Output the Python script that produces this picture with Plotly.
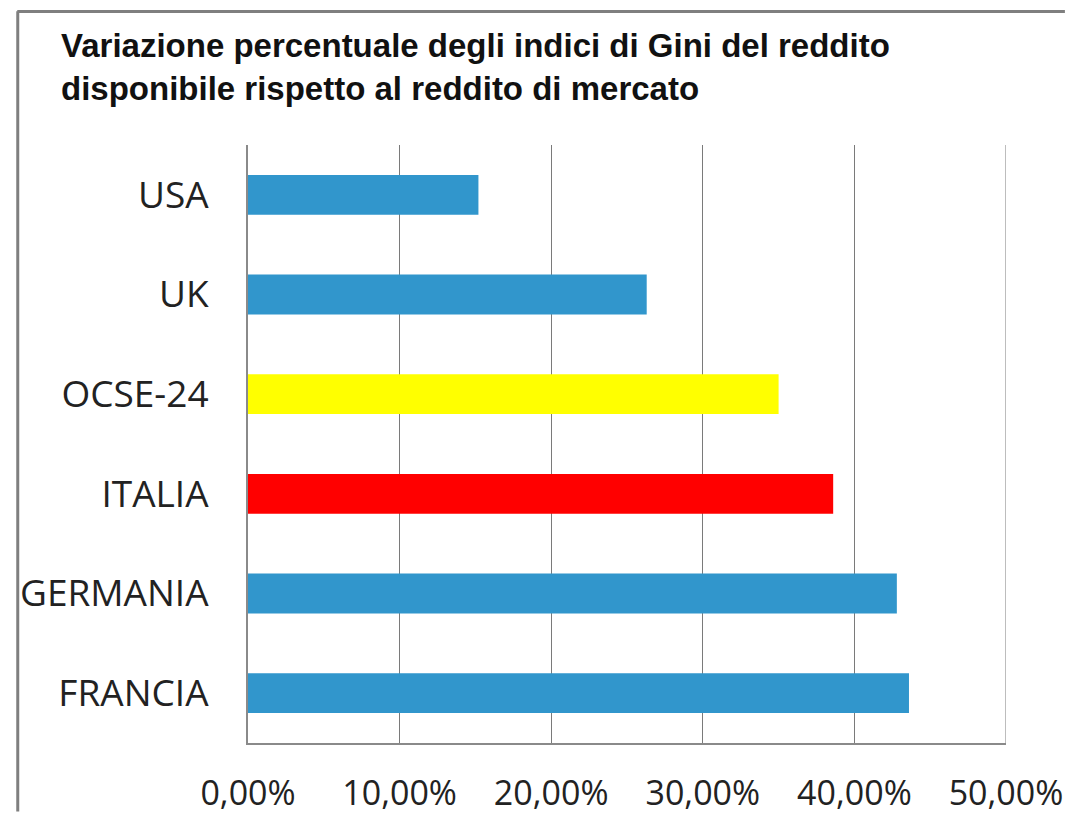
import plotly.graph_objects as go

categories = ["USA", "UK", "OCSE-24", "ITALIA", "GERMANIA", "FRANCIA"]
values = [0.152, 0.263, 0.350, 0.386, 0.428, 0.436]
bar_colors = ["#3196CC", "#3196CC", "#FFFF00", "#FF0000", "#3196CC", "#3196CC"]
tick_vals = [0, 0.1, 0.2, 0.3, 0.4, 0.5]
tick_text = ["0,00%", "10,00%", "20,00%", "30,00%", "40,00%", "50,00%"]
title_text = "Variazione percentuale degli indici di Gini del reddito<br>disponibile rispetto al reddito di mercato"

# page has an 8px body margin; keep the figure inside the window (no scrollbars)
W, H = 1067, 819
L, R, T, B = 235, 60, 137, 70
PW, PH = W - L - R, H - T - B

fig = go.Figure(go.Bar(
    x=values, y=categories, orientation="h",
    marker=dict(color=bar_colors, line=dict(width=0)),
    width=0.4,
))

grid_color = "#7a7a7a"
fig.update_layout(
    width=W, height=H,
    margin=dict(l=L, r=R, t=T, b=B),
    paper_bgcolor="white", plot_bgcolor="white",
    showlegend=False,
    xaxis=dict(range=[tick_vals[0], tick_vals[-1]], tickvals=tick_vals, ticktext=tick_text,
               showgrid=True, gridcolor=grid_color, gridwidth=1,
               showline=True, linecolor="#8a8a8a", linewidth=2,
               ticks="", zeroline=False, ticklabelstandoff=19,
               tickfont=dict(family="Open Sans", size=34, color="#222222"),
               fixedrange=True),
    yaxis=dict(categoryorder="array", categoryarray=categories[::-1],
               showline=True, linecolor="#8a8a8a", linewidth=2,
               ticks="", showgrid=False, ticklabelstandoff=30,
               tickfont=dict(family="Open Sans", size=37, color="#222222"),
               fixedrange=True),
    annotations=[dict(
        text=title_text, showarrow=False, align="left",
        xref="paper", yref="paper", xanchor="left", yanchor="top",
        x=(42 - L) / PW, y=1 + (T - 14) / PH,
        font=dict(family="Liberation Sans, Arial", size=33, color="#111111", weight="bold"),
    )],
    shapes=[
        # right-most gridline (at the end of the axis range)
        dict(type="line", xref="x", yref="paper",
             x0=tick_vals[-1], x1=tick_vals[-1], y0=0, y1=1,
             line=dict(color=grid_color, width=1)),
        # outer frame (top and left)
        dict(type="line", xref="paper", yref="paper",
             x0=-L / PW, x1=(W - L) / PW, y0=1 + (T - 0.5) / PH, y1=1 + (T - 0.5) / PH,
             line=dict(color="#7f7f7f", width=3)),
        dict(type="line", xref="paper", yref="paper",
             x0=-(L - 0.5) / PW, x1=-(L - 0.5) / PW, y0=1 + T / PH, y1=-B / PH,
             line=dict(color="#7f7f7f", width=3)),
    ],
)

fig.write_html("out.html", config={"displayModeBar": False})
